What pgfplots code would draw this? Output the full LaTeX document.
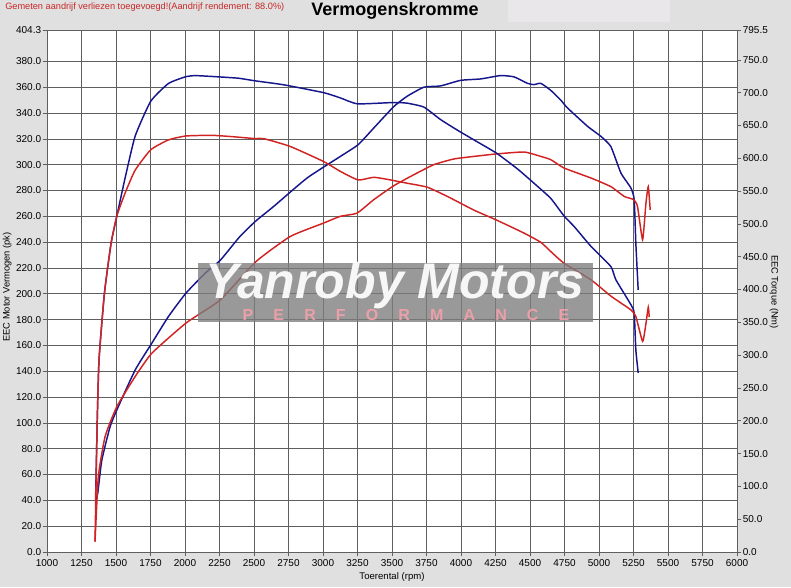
\documentclass[border=0pt]{standalone}
\usepackage{fontspec}
\setmainfont{Liberation Sans}
\usepackage{graphicx}
\usepackage{pgfplots}
\pgfplotsset{compat=1.18}
\definecolor{bg}{RGB}{224,224,224}
\definecolor{boxc}{RGB}{233,231,233}
\definecolor{pblue}{RGB}{22,22,140}
\definecolor{pred}{RGB}{210,35,35}
\definecolor{gridc}{RGB}{95,95,95}
\definecolor{notec}{RGB}{200,40,40}
\definecolor{wmgray}{RGB}{125,125,125}
\definecolor{wmpink}{RGB}{245,160,170}
\begin{document}
\begin{tikzpicture}
\fill[bg] (0pt,0pt) rectangle (593.25pt,440.25pt);
\useasboundingbox (0pt,0pt) rectangle (593.25pt,440.25pt);
\fill[boxc] (381pt,423.75pt) rectangle (502.5pt,440.25pt);
\node[anchor=west,text=notec,font=\fontsize{6.9}{8}\selectfont,inner sep=0pt] at (3.75pt,435pt) {Gemeten aandrijf verliezen toegevoegd!(Aandrijf rendement: 88.0\%)};
\node[font=\fontsize{13.5}{15}\selectfont\bfseries,inner sep=0pt] at (296.25pt,432pt) {Vermogenskromme};

\begin{axis}[
  at={(35.25pt,26.25pt)}, anchor=south west,
  scale only axis, width=517.5pt, height=391.5pt,
  xmin=1000, xmax=6000, ymin=0, ymax=404.3,
  xtick={1000,1250,...,6000},
  ytick={0,20,...,380,404.3},
  grid=major,
  major grid style={gridc,line width=0.45pt},
  axis background/.style={fill=white},
  axis line style={gridc,line width=0.5pt},
  tick style={gridc,line width=0.5pt},
  tick align=outside, major tick length=3.2pt,
  xtick pos=bottom, ytick pos=left,
  /pgf/number format/assume math mode=true,
  tick label style={font=\fontsize{7.5}{9}\selectfont},
  xticklabel style={/pgf/number format/1000 sep={}, yshift=1pt},
  yticklabel style={/pgf/number format/.cd, fixed, fixed zerofill, precision=1, /tikz/inner sep=1pt},
  clip=false,
]
% blue power (pk)
\addplot[pblue, line width=1.1pt, smooth, tension=0.3] coordinates {
(1352,40) (1368,45.7) (1397,71) (1457,97) (1506,110) (1639,141) (1760,161.8) (1880,182.4)
(2007,200.5) (2147,216) (2256,226) (2395,244) (2509,256) (2643,267.7) (2885,289.7)
(3126,306.4) (3255,315.5) (3368,328.4) (3513,345) (3610,353) (3731,360) (3852,361)
(3997,365.3) (4142,366.4) (4287,369) (4384,368) (4481,363) (4529,362) (4578,363)
(4650,357.6) (4723,350) (4771,344) (4917,329.7) (5013,322) (5086,314) (5159,293.5)
(5231,282) (5255,273) (5267,239) (5284,203)
};
% red power (pk)
\addplot[pred, line width=1.1pt, smooth, tension=0.3] coordinates {
(1348,8) (1372,58.4) (1421,89.4) (1506,112.6) (1639,135.9) (1760,154) (2007,177.3)
(2256,195.3) (2515,225) (2763,244.4) (3005,254.8) (3126,260) (3247,262.5) (3368,272.9)
(3513,283.7) (3658,292.2) (3803,300) (3948,304.4) (4094,306.4) (4256,308.3) (4457,309.8)
(4578,306.4) (4650,303.9) (4747,297.4) (4941,289.7) (5086,283) (5183,275.4) (5250,273)
(5279,267.7) (5316,241.9) (5340,270) (5357,283) (5371,265)
};
\end{axis}

\begin{axis}[
  at={(35.25pt,26.25pt)}, anchor=south west,
  scale only axis, width=517.5pt, height=391.5pt,
  xmin=1000, xmax=6000, ymin=0, ymax=795.5,
  axis x line=none, axis y line*=right,
  ytick={0,50,...,750,795.5},
  axis line style={gridc,line width=0.5pt},
  tick style={gridc,line width=0.5pt},
  tick align=outside, major tick length=3.2pt,
  /pgf/number format/assume math mode=true,
  tick label style={font=\fontsize{7.5}{9}\selectfont},
  yticklabel style={/pgf/number format/.cd, fixed, fixed zerofill, precision=1, /tikz/inner sep=1pt},
  clip=false,
]
% blue torque (Nm)
\addplot[pblue, line width=1.1pt, smooth, tension=0.3] coordinates {
(1352,79) (1363,191) (1377,293) (1416,394) (1464,470) (1506,512) (1566,570) (1639,634)
(1752,687) (1880,714) (2001,724) (2074,726) (2250,724) (2388,722) (2509,718) (2715,712)
(3005,700) (3126,692) (3250,683) (3513,685) (3610,684) (3731,678) (3852,659) (3973,643)
(4094,628) (4256,608) (4408,584) (4529,562) (4650,539) (4747,512) (4820,496) (4941,466)
(5086,435) (5122,415) (5231,377) (5255,364) (5267,308) (5284,273)
};
% red torque (Nm)
\addplot[pred, line width=1.1pt, smooth, tension=0.3] coordinates {
(1348,16) (1363,191) (1377,293) (1416,394) (1464,470) (1506,512) (1566,547) (1639,582)
(1752,613) (1880,628) (2007,634) (2195,635) (2340,633) (2509,630) (2570,630) (2763,618)
(3005,595) (3126,580) (3255,567) (3368,571) (3489,567) (3610,562) (3755,556) (3900,542)
(4094,521) (4256,506) (4457,486) (4578,472) (4650,458) (4747,440) (4941,415) (5086,390)
(5231,369) (5267,359) (5316,321) (5340,348) (5357,373) (5364,358)
};
\end{axis}

% watermark
\fill[wmgray,opacity=0.78] (148.5pt,198.75pt) rectangle (444.75pt,243pt);
\node[text=white,opacity=0.92,inner sep=0pt,anchor=base] at (296.25pt,216.5pt)
  {\resizebox{284pt}{!}{\bfseries\itshape\smash{Yanroby Motors}}};
\node[text=wmpink,opacity=0.9,inner sep=0pt,font=\fontsize{12}{13}\selectfont\bfseries] at (304.5pt,204pt)
  {\makebox[245pt][s]{P\hfill E\hfill R\hfill F\hfill O\hfill R\hfill M\hfill A\hfill N\hfill C\hfill E}};

% axis labels
\node[rotate=90,font=\fontsize{7}{8}\selectfont,inner sep=0pt] at (5.5pt,225pt) {EEC Motor Vermogen (pk)};
\node[rotate=-90,font=\fontsize{7}{8}\selectfont,inner sep=0pt] at (580.5pt,221.25pt) {EEC Torque (Nm)};
\node[font=\fontsize{7.2}{8}\selectfont,inner sep=0pt] at (294pt,7.5pt) {Toerental (rpm)};
\end{tikzpicture}
\end{document}
